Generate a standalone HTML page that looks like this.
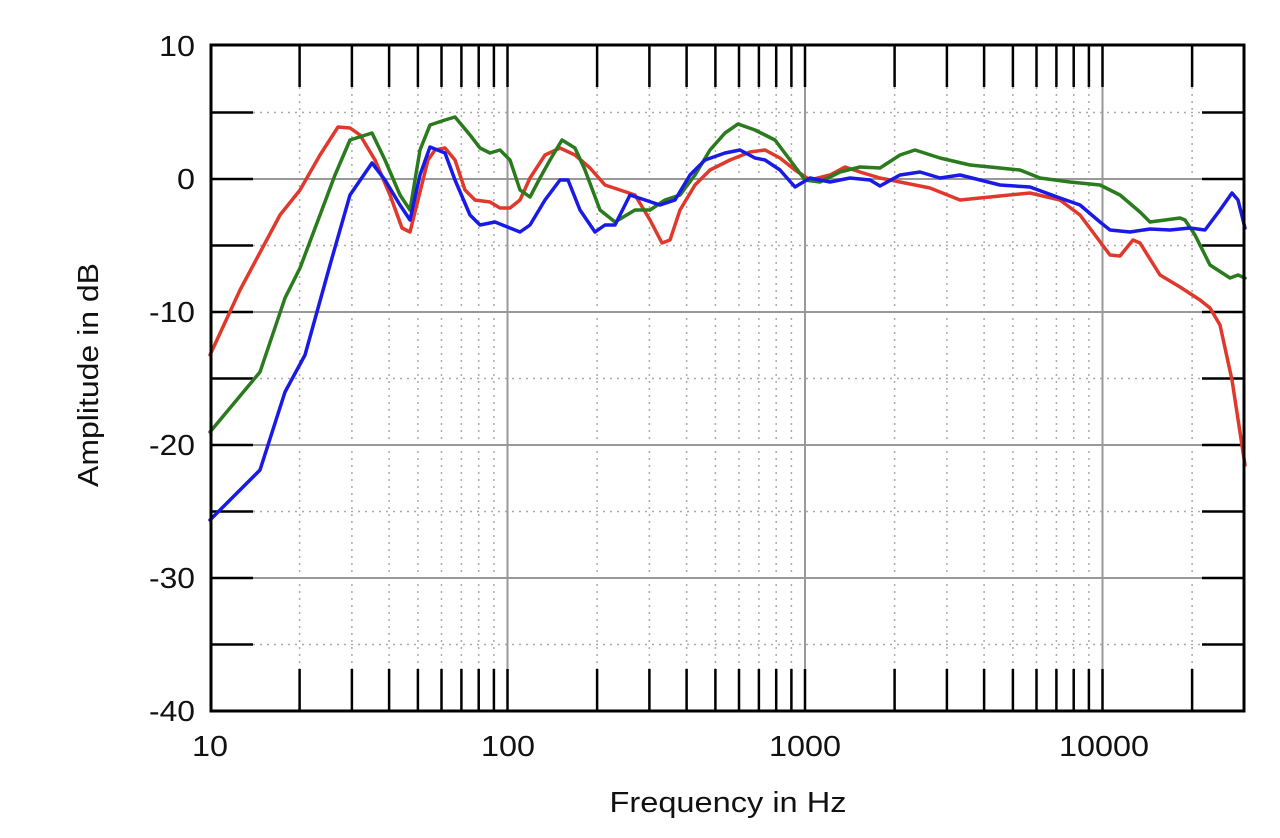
<!DOCTYPE html>
<html><head><meta charset="utf-8"><style>
html,body{margin:0;padding:0;background:#fff;}
svg{display:block;font-family:"Liberation Sans",sans-serif;}
</style></head><body>
<svg width="1280" height="838" viewBox="0 0 1280 838" xmlns="http://www.w3.org/2000/svg">
<rect width="1280" height="838" fill="#fff"/>
<path fill="none" stroke="#aaa" stroke-width="1.5" stroke-dasharray="2,5" d="M299.6 45V711M351.9 45V711M389.1 45V711M417.9 45V711M441.5 45V711M461.4 45V711M478.7 45V711M493.9 45V711M597.1 45V711M649.4 45V711M686.6 45V711M715.4 45V711M739 45V711M758.9 45V711M776.2 45V711M791.4 45V711M894.6 45V711M946.9 45V711M984.1 45V711M1012.9 45V711M1036.5 45V711M1056.4 45V711M1073.7 45V711M1088.9 45V711M1192.1 45V711M211 112.5H1244M211 245.5H1244M211 378.5H1244M211 511.5H1244M211 644.5H1244"/>
<path fill="none" stroke="#999" stroke-width="2" d="M507.5 45V711M805 45V711M1102.5 45V711M211 179H1244M211 312H1244M211 445H1244M211 578H1244"/>
<path fill="none" stroke="#000" stroke-width="2.5" d="M299.6 45V87M351.9 45V87M389.1 45V87M417.9 45V87M441.5 45V87M461.4 45V87M478.7 45V87M493.9 45V87M507.5 45V87M597.1 45V87M649.4 45V87M686.6 45V87M715.4 45V87M739 45V87M758.9 45V87M776.2 45V87M791.4 45V87M805 45V87M894.6 45V87M946.9 45V87M984.1 45V87M1012.9 45V87M1036.5 45V87M1056.4 45V87M1073.7 45V87M1088.9 45V87M1102.5 45V87M1192.1 45V87
M299.6 669V711M351.9 669V711M389.1 669V711M417.9 669V711M441.5 669V711M461.4 669V711M478.7 669V711M493.9 669V711M507.5 669V711M597.1 669V711M649.4 669V711M686.6 669V711M715.4 669V711M739 669V711M758.9 669V711M776.2 669V711M791.4 669V711M805 669V711M894.6 669V711M946.9 669V711M984.1 669V711M1012.9 669V711M1036.5 669V711M1056.4 669V711M1073.7 669V711M1088.9 669V711M1102.5 669V711M1192.1 669V711
M211 112.5H253M211 179H253M211 245.5H253M211 312H253M211 378.5H253M211 445H253M211 511.5H253M211 578H253M211 644.5H253
M1202 112.5H1244M1202 179H1244M1202 245.5H1244M1202 312H1244M1202 378.5H1244M1202 445H1244M1202 511.5H1244M1202 578H1244M1202 644.5H1244"/>
<g fill="none" stroke-width="3.5" stroke-linejoin="round" stroke-linecap="round">
<polyline stroke="#e0392c" points="210,355 240,290 280,215 300,190 320,155 338,127 350,128 360,135 375,160 390,195 402,228 410,232 418,200 428,160 435,150 445,148 455,160 465,190 475,200 490,202 500,208 510,208 520,200 530,178 545,155 560,148 575,155 590,168 605,185 620,190 635,195 650,220 662,243 670,240 680,210 695,185 710,170 730,160 750,152 765,150 780,158 795,170 810,180 830,175 845,167 860,172 880,178 900,182 930,188 960,200 990,197 1030,193 1060,200 1080,215 1095,235 1110,255 1120,256 1133,240 1140,243 1160,275 1180,287 1200,300 1210,308 1220,325 1232,380 1245,465"/>
<polyline stroke="#2a7a1e" points="210,432 260,372 285,298 300,268 320,215 335,175 350,140 372,133 385,160 400,195 410,210 420,150 430,125 445,120 455,117 470,135 480,148 490,153 500,150 510,160 520,190 530,197 540,178 550,160 562,140 575,148 585,170 600,210 615,222 635,210 650,210 665,200 680,195 695,175 710,150 725,133 738,124 755,130 775,140 790,160 805,180 820,182 840,172 860,167 880,168 900,155 915,150 940,158 970,165 1000,168 1020,170 1040,178 1070,182 1100,185 1120,195 1140,212 1150,222 1180,218 1185,220 1195,235 1210,265 1230,278 1238,275 1245,278"/>
<polyline stroke="#1a1ae6" points="210,520 260,470 285,392 305,355 330,265 350,195 372,163 385,180 400,205 410,220 420,175 430,147 445,153 455,180 470,215 480,225 495,222 510,228 520,232 530,225 545,200 560,180 568,180 580,210 595,232 605,225 615,225 630,195 645,200 660,205 675,200 690,175 705,160 725,153 740,150 755,158 765,160 780,170 795,187 810,178 830,182 850,178 870,180 880,186 900,175 920,172 940,178 960,175 1000,185 1030,187 1060,198 1080,205 1100,222 1110,230 1130,232 1150,229 1170,230 1190,228 1205,230 1220,210 1232,193 1238,200 1245,228"/>
</g>
<rect x="211" y="45" width="1033" height="666" fill="none" stroke="#000" stroke-width="3"/>
<g font-size="29" fill="#111" text-anchor="end" lengthAdjust="spacingAndGlyphs">
<text x="195" y="56" textLength="36" lengthAdjust="spacingAndGlyphs">10</text>
<text x="195" y="189" textLength="18" lengthAdjust="spacingAndGlyphs">0</text>
<text x="195" y="322" textLength="46" lengthAdjust="spacingAndGlyphs">-10</text>
<text x="195" y="455" textLength="46" lengthAdjust="spacingAndGlyphs">-20</text>
<text x="195" y="588" textLength="46" lengthAdjust="spacingAndGlyphs">-30</text>
<text x="195" y="721" textLength="46" lengthAdjust="spacingAndGlyphs">-40</text>
</g>
<g font-size="29" fill="#111" text-anchor="middle">
<text x="210" y="756" textLength="36" lengthAdjust="spacingAndGlyphs">10</text>
<text x="508" y="756" textLength="54" lengthAdjust="spacingAndGlyphs">100</text>
<text x="805" y="756" textLength="72" lengthAdjust="spacingAndGlyphs">1000</text>
<text x="1104" y="756" textLength="90" lengthAdjust="spacingAndGlyphs">10000</text>
<text x="728" y="812" textLength="237" lengthAdjust="spacingAndGlyphs">Frequency in Hz</text>
<text transform="translate(98,375) rotate(-90)" textLength="224" lengthAdjust="spacingAndGlyphs">Amplitude in dB</text>
</g>
</svg>
</body></html>
